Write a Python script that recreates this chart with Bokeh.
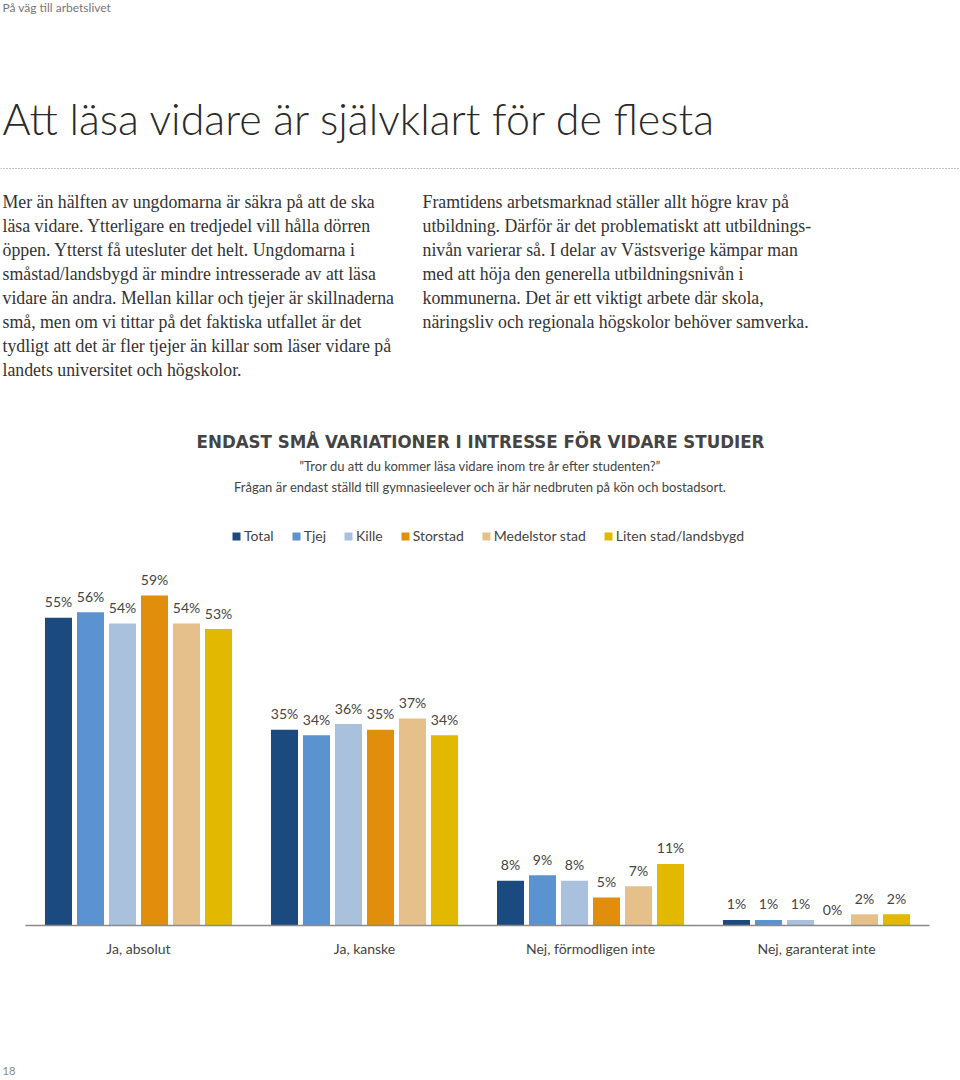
from bokeh.plotting import figure
from bokeh.models import Range1d, FactorRange, Legend, ColumnDataSource
from bokeh.transform import dodge
from bokeh.layouts import column
from bokeh.core.properties import value
from bokeh.embed import file_html
from bokeh.resources import INLINE

# ---------------- data ----------------
categories = ["Ja, absolut", "Ja, kanske", "Nej, förmodligen inte", "Nej, garanterat inte"]
series = ["Total", "Tjej", "Kille", "Storstad", "Medelstor stad", "Liten stad/landsbygd"]
total = [55, 35, 8, 1]
tjej = [56, 34, 9, 1]
kille = [54, 36, 8, 1]
storstad = [59, 35, 5, 0]
medelstor = [54, 37, 7, 2]
liten = [53, 34, 11, 2]
values_by_series = [total, tjej, kille, storstad, medelstor, liten]
colors = ["#1b4a7e", "#5b93d0", "#aac1de", "#e08e0b", "#e6c08a", "#e3b900"]

header = "På väg till arbetslivet"
title = "Att läsa vidare är självklart för de flesta"
left_par = [
    "Mer än hälften av ungdomarna är säkra på att de ska",
    "läsa vidare. Ytterligare en tredjedel vill hålla dörren",
    "öppen. Ytterst få utesluter det helt. Ungdomarna i",
    "småstad/landsbygd är mindre intresserade av att läsa",
    "vidare än andra. Mellan killar och tjejer är skillnaderna",
    "små, men om vi tittar på det faktiska utfallet är det",
    "tydligt att det är fler tjejer än killar som läser vidare på",
    "landets universitet och högskolor.",
]
right_par = [
    "Framtidens arbetsmarknad ställer allt högre krav på",
    "utbildning. Därför är det problematiskt att utbildnings-",
    "nivån varierar så. I delar av Västsverige kämpar man",
    "med att höja den generella utbildningsnivån i",
    "kommunerna. Det är ett viktigt arbete där skola,",
    "näringsliv och regionala högskolor behöver samverka.",
]
chart_title = "ENDAST SMÅ VARIATIONER I INTRESSE FÖR VIDARE STUDIER"
subtitle1 = "\u201dTror du att du kommer läsa vidare inom tre år efter studenten?\u201d"
subtitle2 = "Frågan är endast ställd till gymnasieelever och är här nedbruten på kön och bostadsort."
page_no = "18"

W = 960
SANS = "Lato"
SERIF = "Liberation Serif"


def blank(h, y0, y1):
    f = figure(width=W, height=h, x_range=Range1d(0, W), y_range=Range1d(y1, y0),
               x_axis_location=None, y_axis_location=None, toolbar_location=None,
               output_backend="svg", min_border=0, frame_align=False)
    f.xgrid.grid_line_color = None
    f.ygrid.grid_line_color = None
    f.outline_line_color = None
    return f


def txt(f, x, y, s, size, font, color, align="left", style="normal"):
    f.text(x=[x], y=[y], text=[s], text_font=value(font), text_font_size=f"{size}px",
           text_color=color, text_align=align, text_baseline="middle", text_font_style=style)


# ---------------- top (page text) ----------------
top = blank(520, 0, 520)
txt(top, 2, 7, header, 12, SANS, "#777777")
txt(top, 2, 118, title, 43, "Lato Light", "#2a2a2a")
top.line(x=[0, 960], y=[168, 168], line_color="#888888", line_width=1, line_dash="1 2")
for i, s in enumerate(left_par):
    txt(top, 2, 201 + 24 * i, s, 17.8, SERIF, "#333333")
for i, s in enumerate(right_par):
    txt(top, 422, 201 + 24 * i, s, 17.8, SERIF, "#333333")
txt(top, 480, 441, chart_title, 18.5, "DejaVu Sans Condensed", "#444444", align="center", style="bold")
txt(top, 480, 465, subtitle1, 13, SANS, "#444444", align="center")
txt(top, 480, 486, subtitle2, 13, SANS, "#444444", align="center")

# ---------------- chart ----------------
p = figure(width=W, height=460, x_range=FactorRange(factors=categories, range_padding=0),
           y_range=Range1d(0, 72.4), y_axis_location=None, toolbar_location=None,
           output_backend="svg", min_border_left=25, min_border_right=31,
           min_border_top=0, min_border_bottom=55, frame_align=False)
p.xgrid.grid_line_color = None
p.ygrid.grid_line_color = None
p.outline_line_color = None

pitch = 0.1416
items = []
for i, (name, vals, col) in enumerate(zip(series, values_by_series, colors)):
    off = (i - 2.5) * pitch
    src = ColumnDataSource(dict(cat=categories, v=vals, lab=[f"{v}%" for v in vals]))
    r = p.vbar(x=dodge("cat", off, range=p.x_range), top="v", width=0.1195, source=src,
               fill_color=col, line_color=None)
    items.append((name, [r]))
    p.text(x=dodge("cat", off, range=p.x_range), y="v", text="lab", source=src,
           text_align="center", text_baseline="middle", y_offset=-16,
           text_font=value(SANS), text_font_size="14px", text_color="#444444")

legend = Legend(items=items, orientation="horizontal", location=(206, 381),
                glyph_width=10, glyph_height=10, label_standoff=3, spacing=17,
                padding=0, margin=0, border_line_color=None, background_fill_alpha=0,
                label_text_font=SANS, label_text_font_size="14px", label_text_color="#444444")
p.add_layout(legend)

ax = p.xaxis[0]
ax.axis_line_color = "#8a8a8a"
ax.axis_line_width = 1.5
ax.major_tick_line_color = None
ax.major_tick_out = 0
ax.major_tick_in = 0
ax.major_label_standoff = 14
ax.major_label_text_font = SANS
ax.major_label_text_font_size = "14px"
ax.major_label_text_color = "#444444"

# ---------------- footer ----------------
foot = blank(100, 980, 1080)
txt(foot, 2, 1070, page_no, 11, SANS, "#888888")

layout = column(top, p, foot, spacing=0)
open("out.html", "w").write(file_html(layout, INLINE))
